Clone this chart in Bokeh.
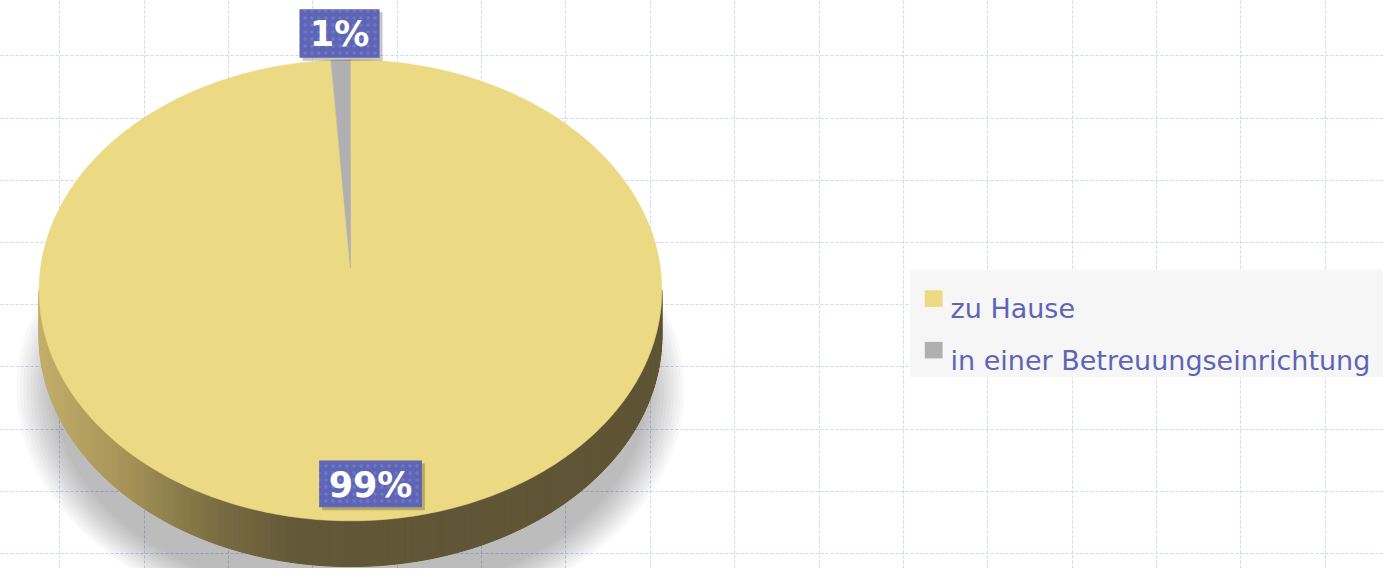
import numpy as np
from bokeh.plotting import figure
from bokeh.models import Range1d, Grid, FixedTicker
from bokeh.core.properties import value
from bokeh.embed import file_html
from bokeh.resources import INLINE

# ---------------- data ----------------
categories = ["zu Hause", "in einer Betreuungseinrichtung"]
values = [99, 1]
pct_labels = ["99%", "1%"]

# ---------------- styles ----------------
slice_colors = ["#ecd984", "#b0b0b0"]
label_box_color = "#5e64b6"
text_color = "#5e64b6"
label_box_w = [104, 81]
label_box_h = [48, 50]
label_radius = [0.84, 1.115]

W, H = 1383, 568
p = figure(width=W, height=H, output_backend="svg", toolbar_location=None,
           x_range=Range1d(0, 1399), y_range=Range1d(584, 0),
           x_axis_type=None, y_axis_type=None, min_border=0,
           outline_line_color=None, background_fill_color="white",
           border_fill_color="white")

# background grid
vx = [60 + 85.33 * k for k in range(16)]
hy = [57 + 63.95 * k for k in range(9)]
for dim, ticks in ((0, vx), (1, hy)):
    g = Grid(dimension=dim, ticker=FixedTicker(ticks=ticks),
             grid_line_color="#cdd6f7", grid_line_width=1,
             grid_line_dash="3 2")
    p.add_layout(g)

# geometry of the 3D pie (screen coordinates, y downwards)
cx, cy, rx, ry = 354.0, 298.0, 315.0, 237.0
ax, ay = 354.0, 275.0   # apex (perspective)
depth = 47.0

# soft shadow
N = 12
for k in range(N):
    f = k / (N - 1)
    srx = 338 - 38 * f
    sry = 245 - 30 * f
    t = np.linspace(0, 2 * np.pi, 200)
    p.patch(354 + srx * np.cos(t), 400 + sry * np.sin(t),
            fill_color="#000000", fill_alpha=0.022, line_color=None)

# side (lower half, extruded)
def hex2rgb(h):
    h = h.lstrip("#")
    return np.array([int(h[i:i + 2], 16) for i in (0, 2, 4)], float)

stops_x = [40, 120, 220, 300, 670]
stops_c = [hex2rgb(c) for c in ["#c2ae6b", "#a89558", "#7a6c43", "#625837", "#5e5434"]]

def side_color(x):
    rgb = [np.interp(x, stops_x, [c[i] for c in stops_c]) for i in range(3)]
    return "#%02x%02x%02x" % tuple(int(round(v)) for v in rgb)

ts = np.linspace(0, np.pi, 181)
xs, ys, cs = [], [], []
for i in range(len(ts) - 1):
    t0, t1 = ts[i], ts[i + 1]
    x0, y0 = cx + rx * np.cos(t0), cy + ry * np.sin(t0)
    x1, y1 = cx + rx * np.cos(t1), cy + ry * np.sin(t1)
    xs.append([x0, x1, x1, x0])
    ys.append([y0, y1, y1 + depth, y0 + depth])
    cs.append(side_color((x0 + x1) / 2))
p.patches(xs, ys, fill_color=cs, line_color=cs, line_width=1)

# top face slices
total = float(sum(values))
start = -np.pi / 2
mids = []
for v, col in zip(values, slice_colors):
    span = 2 * np.pi * v / total
    t = np.linspace(start, start + span, max(3, int(400 * v / total)))
    px = np.concatenate([[ax], cx + rx * np.cos(t)])
    py = np.concatenate([[ay], cy + ry * np.sin(t)])
    p.patch(px, py, fill_color=col, line_color=col, line_width=0.5)
    mids.append(start + span / 2)
    start += span

# percentage labels
lx = [cx + f * rx * np.cos(m) for f, m in zip(label_radius, mids)]
ly = [cy + f * ry * np.sin(m) for f, m in zip(label_radius, mids)]
lx[0] += 12
p.rect([x + 3 for x in lx], [y + 3 for y in ly], width=label_box_w, height=label_box_h,
       fill_color="#000000", fill_alpha=0.22, line_color=None)
p.rect(lx, ly, width=label_box_w, height=label_box_h, fill_color=label_box_color,
       line_color=None, hatch_pattern="dot", hatch_color="#7d83cc", hatch_scale=7,
       hatch_alpha=0.6)
p.text(lx, [y + 1 for y in ly], text=pct_labels, text_color="white",
       text_font=value("DejaVu Sans"), text_font_style="bold", text_font_size="35px",
       text_align="center", text_baseline="middle")

# legend
p.quad(left=[920], right=[1400], top=[277], bottom=[387], fill_color="#f6f6f6",
       line_color=None)
leg_y = [317, 370]
p.quad(left=[935] * 2, right=[953] * 2, top=[y - 19 for y in leg_y],
       bottom=[y - 2 for y in leg_y], fill_color=slice_colors, line_color=None)
p.text([961] * 2, leg_y, text=categories, text_color=text_color,
       text_font=value("DejaVu Sans"), text_font_size="27px",
       text_align="left", text_baseline="alphabetic")

open("out.html", "w").write(file_html(p, INLINE))
